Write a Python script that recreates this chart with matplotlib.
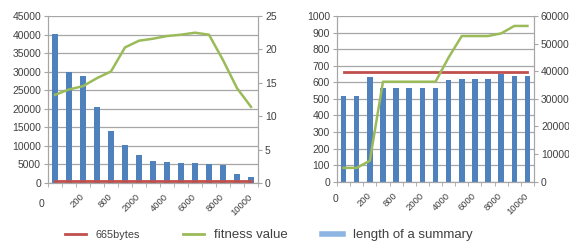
import matplotlib.pyplot as plt
from matplotlib.lines import Line2D
from matplotlib.transforms import blended_transform_factory

plt.rcParams['font.family'] = ['Liberation Sans', 'DejaVu Sans']

# categories (15 per chart)
cats = ['0', '100', '200', '400', '800', '1000', '2000', '3000', '4000',
        '5000', '6000', '7000', '8000', '9000', '10000']
shown = ['', '', '200', '', '800', '', '2000', '', '4000', '', '6000', '', '8000', '', '10000']

# left chart
len_left = [40250, 30030, 28860, 20440, 13900, 10220, 7530, 6000, 5560,
            5380, 5380, 5200, 4840, 2420, 1700]
fit_left = [13.2, 14.0, 14.5, 15.7, 16.7, 20.3, 21.3, 21.6, 22.0,
            22.2, 22.5, 22.2, 18.4, 14.2, 11.4]

# right chart
len_right = [519, 519, 630, 567, 567, 567, 567, 567, 612,
             620, 620, 620, 650, 640, 640]
fit_right = [5000, 5000, 7600, 36200, 36200, 36200, 36200, 36200, 45000,
             52750, 52750, 52750, 53700, 56400, 56400]

limit = 665  # 665bytes

blue = '#4F81BD'
green = '#9BBB59'
red = '#C0504D'
grid = '#A6A6A6'
txt = '#404040'

fig = plt.figure(figsize=(5.69, 2.42), dpi=100)
axL = fig.add_axes([48/569, 59/242, 210/569, 167/242])
axR = fig.add_axes([337/569, 60.3/242, 197/569, 165.7/242])

x = list(range(len(cats)))


def style(ax, ax2, ymax, ystep, y2max, y2step, zero_xy):
    ax.set_xlim(-0.5, len(cats) - 0.5)
    ax.set_ylim(0, ymax)
    ax2.set_ylim(0, y2max)
    ax.set_yticks(range(0, ymax + 1, ystep))
    ax2.set_yticks(range(0, y2max + 1, y2step))
    ax.set_axisbelow(True)
    ax.grid(axis='y', color=grid, lw=0.9)
    ax.set_xticks(x)
    ax.set_xticklabels(shown, rotation=45, ha='right', va='center',
                       rotation_mode='anchor', fontsize=6.8, color=txt)
    ax.set_xticks([i - 0.5 for i in range(len(cats) + 1)], minor=True)
    ax.tick_params(axis='x', which='major', length=0, pad=9)
    ax.tick_params(axis='x', which='minor', length=3, color=grid)
    ax.tick_params(axis='y', length=3, color=grid, labelsize=7.5, labelcolor=txt, pad=2)
    ax2.tick_params(axis='y', length=3, color=grid, labelsize=7.5, labelcolor=txt, pad=2)
    for a in (ax, ax2):
        a.spines['top'].set_visible(False)
        for s in ('left', 'right', 'bottom'):
            a.spines[s].set_color(grid)
    tr = blended_transform_factory(ax.transData, ax.transAxes)
    ax.text(zero_xy[0], zero_xy[1], '0', transform=tr, fontsize=7.5, color=txt,
            ha='center', va='center')


# left chart
axL.bar(x, len_left, width=0.42, color=blue, zorder=2)
axL.plot(x, [limit] * len(x), color=red, lw=2, zorder=3)
axL2 = axL.twinx()
axL2.plot(x, fit_left, color=green, lw=1.8)
style(axL, axL2, 45000, 5000, 25, 5, (-0.93, -0.126))

# right chart
axR.bar(x, len_right, width=0.42, color=blue, zorder=2)
axR.plot(x, [limit] * len(x), color=red, lw=2, zorder=3)
axR2 = axR.twinx()
axR2.plot(x, fit_right, color=green, lw=1.8)
style(axR, axR2, 1000, 100, 60000, 10000, (-0.65, -0.104))

# legend: handle, label, font size, left edge (px)
entries = [
    (Line2D([], [], color=red, lw=2), '665bytes', 7.8, 65),
    (Line2D([], [], color=green, lw=2), 'fitness value', 9.5, 183),
    (Line2D([], [], color='#8DB4E2', lw=4), 'length of a summary', 9.5, 322),
]
for h, lab, fs, xpos in entries:
    fs_px = fs * 100 / 72
    leg = fig.legend([h], [lab], loc='center left', bbox_to_anchor=(xpos/569, 7/242),
                     frameon=False, fontsize=fs, handlelength=21/fs_px,
                     handletextpad=10/fs_px, borderpad=0, borderaxespad=0)
    for t in leg.get_texts():
        t.set_color(txt)

fig.savefig('out.png', dpi=100)
